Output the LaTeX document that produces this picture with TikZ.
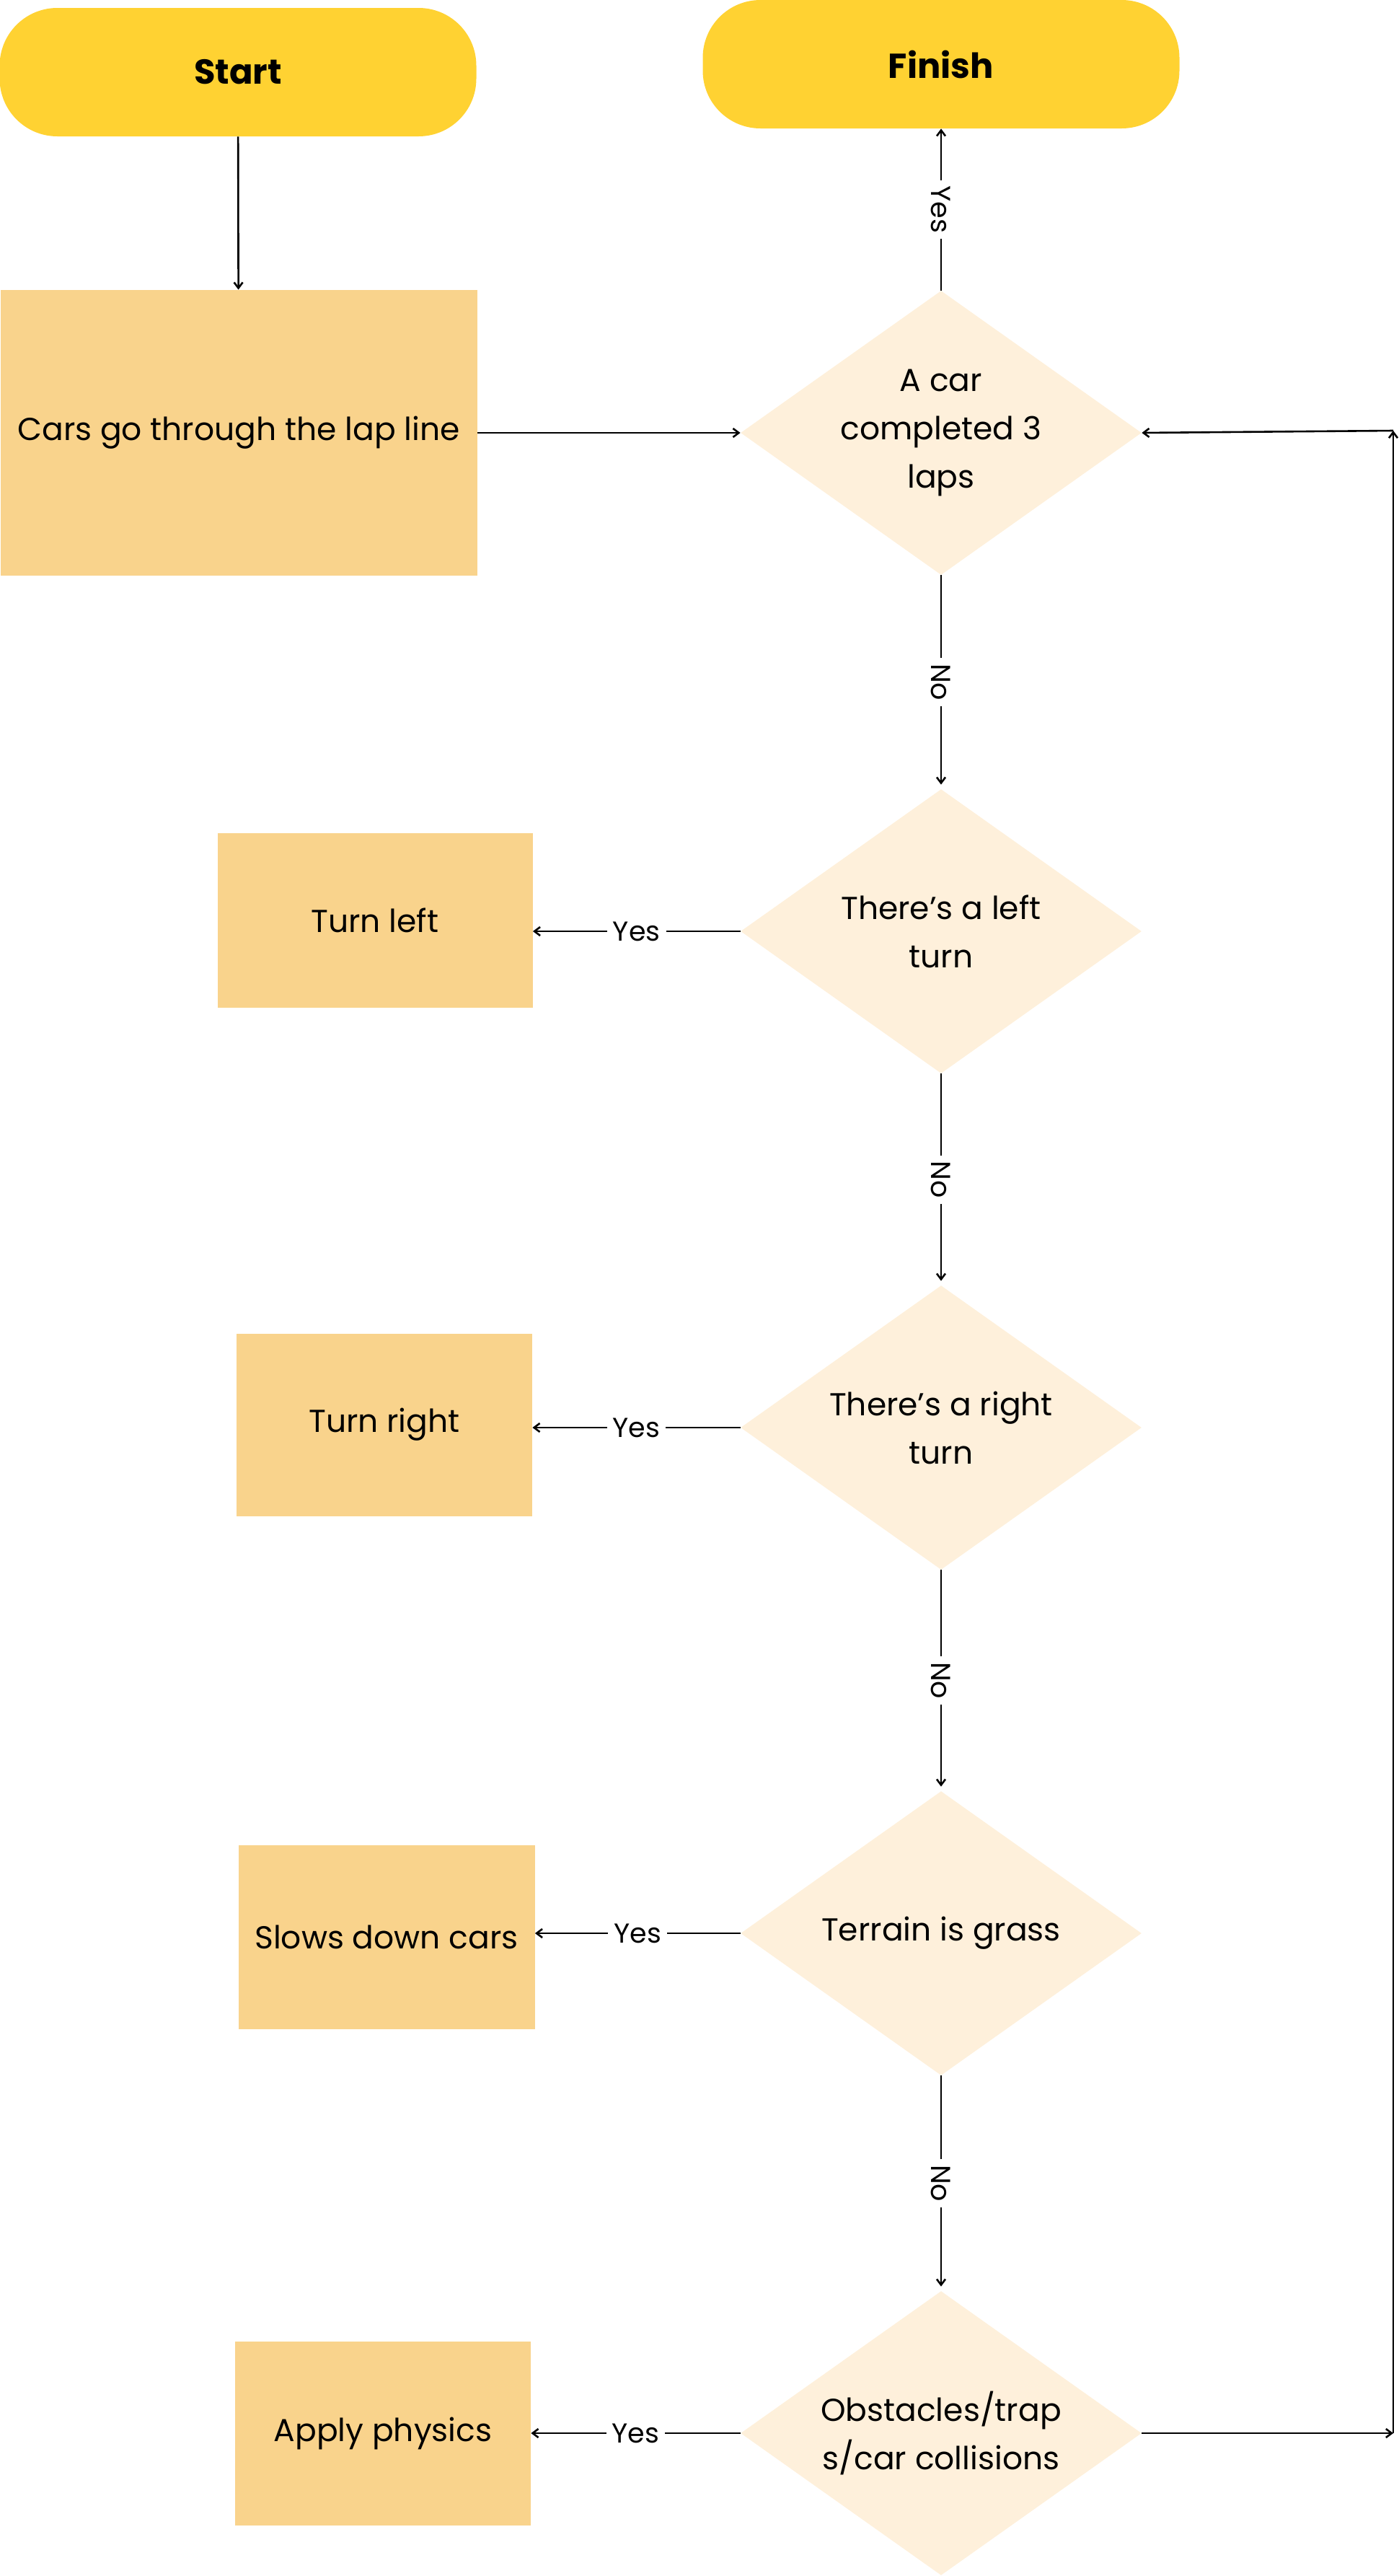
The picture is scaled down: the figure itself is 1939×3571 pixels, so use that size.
\documentclass[tikz,border=0pt]{standalone}
\usepackage{fontspec}
\setmainfont{Poppins}
\usetikzlibrary{positioning,shapes.geometric,arrows.meta}
\definecolor{termyellow}{HTML}{FFD232}
\definecolor{procorange}{HTML}{F9D38C}
\definecolor{decicream}{HTML}{FEF0DB}
\tikzset{>={Straight Barb[length=4pt,width=6pt]}}
\newcommand*{\txt}{\fontsize{22}{33.5}\selectfont}

\begin{document}
\begin{tikzpicture}[x=0.5pt,y=-0.5pt,
  terminal/.style={rectangle,rounded corners=40pt,fill=termyellow,minimum width=330.5pt,minimum height=89pt,font=\fontsize{24}{30}\selectfont\bfseries},
  process/.style={rectangle,fill=procorange,font=\txt},
  decision/.style={diamond,aspect=1.4,fill=decicream,minimum width=278pt,minimum height=197pt,inner sep=0pt,align=center,font=\txt},
  conn/.style={->,line width=1.3pt},
  yn/.style={fill=white,inner sep=4pt,font=\fontsize{19}{22}\selectfont}]
\useasboundingbox (0,0) rectangle (1939,3571);
% Terminals
\node[terminal] (start) at (330,100) {Start};
\node[terminal] (finish) at (1305,89) {Finish};

% Main column of decisions
\node[process,minimum width=330.5pt,minimum height=198pt] (lapline) at (331,600) {Cars go through the lap line};
\node[decision] (laps) at (1305,600) {A car\\completed 3\\laps};
\node[decision] (left) at (1305,1291) {There’s a left\\turn};
\node[decision] (right) at (1305,1979) {There’s a right\\turn};
\node[decision] (grass) at (1305,2680) {Terrain is grass};
\node[decision] (obst) at (1305,3373) {Obstacles/trap\\s/car collisions};

% Actions on the left
\node[process,minimum width=218.5pt,minimum height=121pt] (turnleft) at (520,1276) {Turn left};
\node[process,minimum width=205pt,minimum height=126.5pt] (turnright) at (533,1975) {Turn right};
\node[process,minimum width=205.5pt,minimum height=127.5pt] (slow) at (536,2685) {Slows down cars};
\node[process,minimum width=205pt,minimum height=127.5pt] (physics) at (531,3373) {Apply physics};

% Straight connectors
\draw[conn] (start) -- (lapline);
\draw[conn] (lapline.east |- laps.west) -- (laps.west);
\draw[conn] (laps) -- node[yn,rotate=-90] {Yes} (finish);
\draw[conn,shorten >=3pt] (laps) -- node[yn,rotate=-90] {No} (left);
\draw[conn,shorten >=3pt] (left) -- node[yn,rotate=-90] {No} (right);
\draw[conn,shorten >=3pt] (right) -- node[yn,rotate=-90] {No} (grass);
\draw[conn,shorten >=3pt] (grass) -- node[yn,rotate=-90] {No} (obst);

% Yes branches
\draw[conn] (left.west) -- node[yn] {Yes} (left.west -| turnleft.east);
\draw[conn] (right.west) -- node[yn] {Yes} (right.west -| turnright.east);
\draw[conn] (grass.west) -- node[yn] {Yes} (grass.west -| slow.east);
\draw[conn] (obst.west) -- node[yn] {Yes} (obst.west -| physics.east);

% Loop back to the lap check
\coordinate (loopbot) at (1932,3373);
\coordinate (looptop) at (1932,597);
\draw[conn] (obst.east) -- (loopbot);
\draw[conn] (loopbot) -- (looptop);
\draw[conn] (looptop) -- (laps.east);
\end{tikzpicture}
\end{document}
